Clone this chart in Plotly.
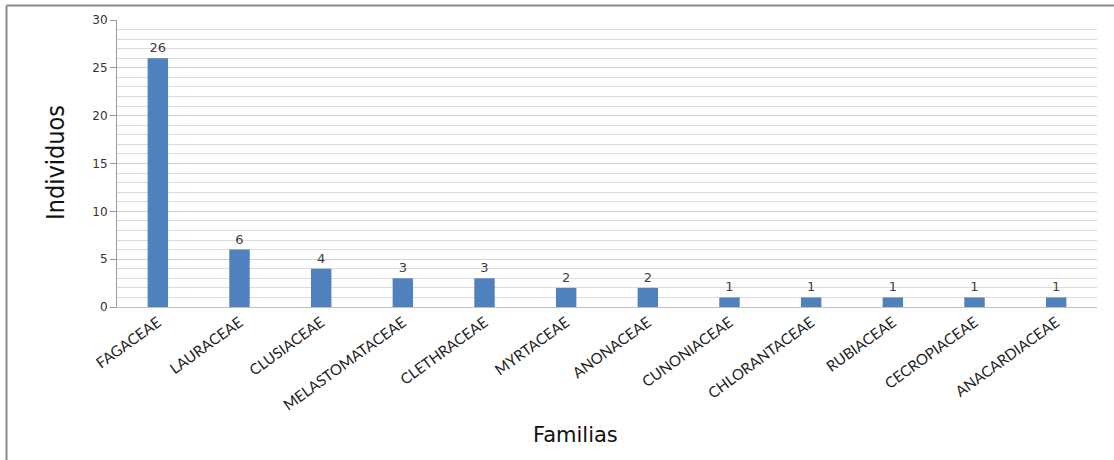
import plotly.graph_objects as go

familias = ["FAGACEAE", "LAURACEAE", "CLUSIACEAE", "MELASTOMATACEAE", "CLETHRACEAE",
            "MYRTACEAE", "ANONACEAE", "CUNONIACEAE", "CHLORANTACEAE", "RUBIACEAE",
            "CECROPIACEAE", "ANACARDIACEAE"]
individuos = [26, 6, 4, 3, 3, 2, 2, 1, 1, 1, 1, 1]

W, H = 1114, 460
L, R, T, B = 117, 17, 20, 153
pw, ph = W - L - R, H - T - B

def px_x(x):
    return (x - L) / pw

def px_y(y):
    return (H - B - y) / ph

fig = go.Figure(go.Bar(
    x=familias, y=individuos,
    marker=dict(color="#4F81BD", line=dict(width=0)),
    text=individuos, textposition="outside", cliponaxis=False,
    textfont=dict(family="DejaVu Sans", size=13, color="#404040"),
    width=0.25,
))

fig.update_layout(
    width=W, height=H,
    margin=dict(l=L, r=R, t=T, b=B),
    paper_bgcolor="white", plot_bgcolor="white",
    showlegend=False,
    xaxis=dict(
        tickangle=-36, showgrid=False,
        tickfont=dict(family="Lato", size=15, color="#222"),
        showline=True, linecolor="#bfbfbf", linewidth=1,
        ticks="",
    ),
    yaxis=dict(
        range=[0, 30], dtick=5, tick0=0,
        showgrid=True, gridcolor="#cfcfcf", gridwidth=1,
        minor=dict(dtick=1, showgrid=True, gridcolor="#dcdcdc", gridwidth=1),
        showline=True, linecolor="#9a9a9a", linewidth=1,
        ticks="outside", ticklen=6, tickcolor="#9a9a9a",
        tickfont=dict(family="DejaVu Sans", size=12, color="#333"),
        zeroline=False,
    ),
    annotations=[
        dict(text="Individuos", xref="paper", yref="paper",
             x=px_x(55), y=px_y(163), xanchor="center", yanchor="middle",
             textangle=-90, showarrow=False,
             font=dict(family="Liberation Sans Narrow, DejaVu Sans Condensed", size=25, color="#111")),
        dict(text="Familias", xref="paper", yref="paper",
             x=px_x(575), y=px_y(435), xanchor="center", yanchor="middle",
             showarrow=False,
             font=dict(family="DejaVu Sans", size=21, color="#111")),
    ],
    shapes=[
        dict(type="line", xref="paper", yref="paper",
             x0=px_x(6.5), x1=px_x(W), y0=px_y(5.5), y1=px_y(5.5),
             line=dict(color="#8c8c8c", width=2)),
        dict(type="line", xref="paper", yref="paper",
             x0=px_x(6.5), x1=px_x(6.5), y0=px_y(5.5), y1=px_y(H),
             line=dict(color="#8c8c8c", width=2)),
    ],
)

fig.write_html("out.html")
